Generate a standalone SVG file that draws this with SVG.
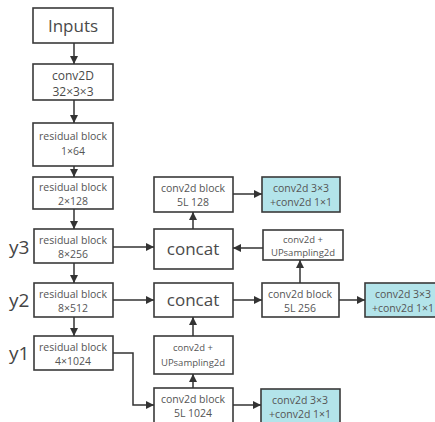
<svg xmlns="http://www.w3.org/2000/svg" width="435" height="422" viewBox="0 0 435 422">
<defs>
<marker id="ah" viewBox="0 0 10 10" refX="10" refY="5" markerWidth="8" markerHeight="8" markerUnits="userSpaceOnUse" orient="auto">
<path d="M0,0 L10,5 L0,10 z" fill="#333"/>
</marker>
<style>
.b{fill:#fff;stroke:#3a3a3a;stroke-width:1.6}
.c{fill:#b3e4ea;stroke:#3a3a3a;stroke-width:1.6}
text{font-family:"Open Sans","Noto Sans",sans-serif;fill:#4a4a4a;text-anchor:middle}
.big{font-size:17px}
.md{font-size:12px}
.sm{font-size:10.5px;fill:#555}
.xs{font-size:9.5px;fill:#555}
.lab{font-size:19px;text-anchor:start;fill:#444}
.e{fill:none;stroke:#333;stroke-width:1.5;marker-end:url(#ah)}
</style>
</defs>
<rect width="435" height="422" fill="#fff"/>
<g id="labels">
<text class="lab" x="9" y="254">y3</text>
<text class="lab" x="9" y="307">y2</text>
<text class="lab" x="9" y="360">y1</text>
</g>
<g id="inputs"><rect class="b" x="33" y="8" width="80" height="35"/><text class="big" x="73" y="32">Inputs</text></g>
<g id="conv2D"><rect class="b" x="33" y="64" width="80" height="36"/><text class="md" x="73" y="80">conv2D</text><text class="md" x="73" y="96">32×3×3</text></g>
<g id="res1"><rect class="b" x="33" y="123" width="80" height="43"/><text class="sm" x="73" y="140">residual block</text><text class="sm" x="73" y="155">1×64</text></g>
<g id="res2"><rect class="b" x="33" y="177" width="80" height="32"/><text class="sm" x="73" y="191">residual block</text><text class="sm" x="73" y="205">2×128</text></g>
<g id="res3"><rect class="b" x="34" y="229" width="79" height="34"/><text class="sm" x="73" y="244">residual block</text><text class="sm" x="73" y="258">8×256</text></g>
<g id="res4"><rect class="b" x="34" y="283" width="79" height="34"/><text class="sm" x="73" y="298">residual block</text><text class="sm" x="73" y="312">8×512</text></g>
<g id="res5"><rect class="b" x="34" y="336" width="79" height="34"/><text class="sm" x="73" y="351">residual block</text><text class="sm" x="73" y="365">4×1024</text></g>
<g id="conv128"><rect class="b" x="154" y="177" width="79" height="35"/><text class="sm" x="193" y="192">conv2d block</text><text class="sm" x="193" y="206">5L 128</text></g>
<g id="concat1"><rect class="b" x="154" y="229" width="79" height="40"/><text class="big" x="193" y="255">concat</text></g>
<g id="concat2"><rect class="b" x="154" y="283" width="79" height="34"/><text class="big" x="193" y="306">concat</text></g>
<g id="up2"><rect class="b" x="154" y="336" width="79" height="38"/><text class="xs" x="193" y="351">conv2d +</text><text class="xs" x="193" y="366">UPsampling2d</text></g>
<g id="conv1024"><rect class="b" x="154" y="388" width="79" height="40"/><text class="sm" x="193" y="403">conv2d block</text><text class="sm" x="193" y="417">5L 1024</text></g>
<g id="out1"><rect class="c" x="262" y="177" width="78" height="35"/><text class="sm" x="301" y="192">conv2d 3×3</text><text class="sm" x="301" y="206">+conv2d 1×1</text></g>
<g id="up1"><rect class="b" x="263" y="230" width="80" height="30"/><text class="xs" x="303" y="243">conv2d +</text><text class="xs" x="303" y="256">UPsampling2d</text></g>
<g id="conv256"><rect class="b" x="262" y="283" width="77" height="34"/><text class="sm" x="300" y="298">conv2d block</text><text class="sm" x="300" y="312">5L 256</text></g>
<g id="out2"><rect class="c" x="365" y="283" width="80" height="34"/><text class="sm" x="403" y="298">conv2d 3×3</text><text class="sm" x="403" y="312">+conv2d 1×1</text></g>
<g id="out3"><rect class="c" x="261" y="389" width="79" height="40"/><text class="sm" x="300" y="404">conv2d 3×3</text><text class="sm" x="300" y="418">+conv2d 1×1</text></g>
<g id="connectors">
<path class="e" d="M74,43 V64"/>
<path class="e" d="M74,100 V123"/>
<path class="e" d="M74,166 V177"/>
<path class="e" d="M74,209 V229"/>
<path class="e" d="M74,263 V283"/>
<path class="e" d="M74,317 V336"/>
<path class="e" d="M113,247 H154"/>
<path class="e" d="M113,300 H154"/>
<path class="e" d="M113,353 H133 V405 H154"/>
<path class="e" d="M233,405 H261"/>
<path class="e" d="M193,388 V374"/>
<path class="e" d="M193,336 V317"/>
<path class="e" d="M233,300 H262"/>
<path class="e" d="M339,300 H365"/>
<path class="e" d="M300,283 V260"/>
<path class="e" d="M263,248 H233"/>
<path class="e" d="M193,229 V212"/>
<path class="e" d="M233,194 H262"/>
</g>
</svg>
